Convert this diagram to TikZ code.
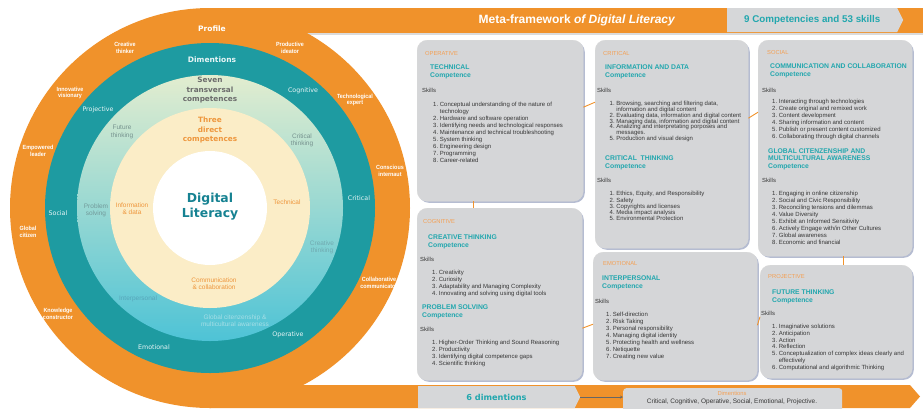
\documentclass[tikz,border=0pt]{standalone}
\usepackage{fontspec}
\setmainfont{Liberation Sans}
\newfontfamily\ringfont{DejaVu Sans}
\newfontfamily\narrowfont[FakeStretch=0.9]{Liberation Sans}
\usetikzlibrary{shapes.symbols, arrows, shadows, positioning}

\definecolor{dlorange}{RGB}{240,146,43}
\definecolor{dlteal}{RGB}{30,155,161}
\definecolor{dldeep}{RGB}{22,130,146}
\definecolor{dlcyan}{RGB}{34,167,174}
\definecolor{dlcream}{RGB}{251,237,199}
\definecolor{dlpale}{RGB}{226,237,207}
\definecolor{dlmint}{RGB}{140,210,204}
\definecolor{dlsky}{RGB}{78,195,214}
\definecolor{dlcard}{RGB}{213,214,216}
\definecolor{dlgray}{RGB}{214,215,217}
\definecolor{dlshade}{RGB}{150,160,190}
\definecolor{dltag}{RGB}{244,160,84}
\definecolor{dlink}{RGB}{55,55,55}
\definecolor{dlmuted}{RGB}{118,146,142}
\definecolor{dlfaint}{RGB}{100,185,200}
\definecolor{dlhaze}{RGB}{112,170,176}
\definecolor{dldusk}{RGB}{88,165,186}
\definecolor{dlmist}{RGB}{165,222,230}
\definecolor{dlsoft}{RGB}{238,150,60}

% indent for a wrapped skill line
\newcommand{\wrapon}{\phantom{1.}~}

\begin{document}
\begin{tikzpicture}[x=1pt, y=-1pt,
    % styles
    card/.style={rectangle, rounded corners=10pt, fill=dlcard, draw=black!15, line width=0.4pt, anchor=north west, inner sep=0pt,
      drop shadow={shadow xshift=1.6pt, shadow yshift=-1.6pt, fill=dlshade, opacity=0.7}},
    tag/.style={anchor=west, inner sep=0pt, text=dltag, font=\fontsize{5.8}{6.5}\selectfont},
    heading/.style={anchor=north west, inner sep=0pt, align=left, text=dlcyan, font=\bfseries\fontsize{6.8}{8}\selectfont},
    skillhead/.style={anchor=west, inner sep=0pt, text=dlink, font=\fontsize{5.9}{7}\selectfont},
    skills/.style={anchor=north west, inner sep=0pt, align=left, text=dlink, font=\fontsize{6}{7}\selectfont},
    link/.style={dlorange, line width=0.9pt},
    profile/.style={inner sep=0pt, align=center, text=white, font=\narrowfont\bfseries\fontsize{6}{6.6}\selectfont},
    dimension/.style={inner sep=0pt, align=center, text=white!90!dlteal, font=\ringfont\fontsize{6.3}{7}\selectfont},
    transversal/.style={inner sep=0pt, align=center, font=\fontsize{6.5}{7.2}\selectfont},
    direct/.style={inner sep=0pt, align=center, text=dlsoft, font=\fontsize{6.5}{7.2}\selectfont},
    chevron/.style={signal, signal to=east, signal pointer angle=127, fill=dlgray, inner sep=0pt, anchor=west}
  ]
  \useasboundingbox (0,0) rectangle (923,408);

  % rings: profile, dimensions, transversal, direct, core
  \fill[black!14] (300,33) rectangle (923,35);
  \fill[dlorange] (210,8) rectangle (923,33);
  \fill[dlorange] (210,385) -- (910,385) -- (920,396.5) -- (910,408) -- (210,408) -- cycle;
  \fill[dlorange] (210,208) circle (200);
  \fill[dlteal] (210,208) circle (165);
  \shade[top color=dlpale, middle color=dlmint, bottom color=dlsky] (210,208) circle (133);
  \fill[dlcream] (210,208) circle (100);
  \fill[white] (210,208) circle (57);

  \node[font=\ringfont\bfseries\fontsize{12.4}{15}\selectfont, text=dldeep, align=center] (core) at (210,206.5) {Digital\\Literacy};

  % profile band
  \node[profile, font=\ringfont\bfseries\fontsize{7.5}{9}\selectfont] (profile) at (212,29) {Profile};
  \node[profile] (creative) at (125,48) {Creative\\thinker};
  \node[profile] (ideator) at (290,48) {Productive\\ideator};
  \node[profile] (visionary) at (70,93) {Innovative\\visionary};
  \node[profile] (expert) at (355,100) {Technological\\expert};
  \node[profile] (leader) at (38,151) {Empowered\\leader};
  \node[profile] (internaut) at (390,171) {Conscious\\internaut};
  \node[profile] (citizen) at (28,232) {Global\\citizen};
  \node[profile] (communicator) at (379,283) {Collaborative\\communicator};
  \node[profile] (constructor) at (58,314) {Knowledge\\constructor};

  % dimensions band
  \node[dimension, font=\ringfont\bfseries\fontsize{7.5}{9}\selectfont] (dimtitle) at (212,60) {Dimentions};
  \node[dimension] (dcognitive) at (303,91) {Cognitive};
  \node[dimension] (dprojective) at (98,110) {Projective};
  \node[dimension] (dcritical) at (359,198) {Critical};
  \node[dimension] (dsocial) at (58,213) {Social};
  \node[dimension] (doperative) at (288,335) {Operative};
  \node[dimension] (demotional) at (154,347) {Emotional};

  % transversal band
  \node[transversal, text=black!58, font=\ringfont\bfseries\fontsize{7.3}{9.5}\selectfont] (seven) at (210,90.5) {Seven\\transversal\\competences};
  \node[transversal, text=dlmuted] (tfuture) at (122,132) {Future\\thinking};
  \node[transversal, text=dlmuted] (tcritical) at (302,140) {Critical\\thinking};
  \node[transversal, text=dlmuted!80!dlfaint] (tproblem) at (96,210) {Problem\\solving};
  \node[transversal, text=dlhaze] (tcreative) at (322,247) {Creative\\thinking};
  \node[transversal, text=dldusk] (tinter) at (138,299) {Interpersonal};
  \node[transversal, text=dlmist] (tglobal) at (235,321) {Global citenzenship \&\\multicultural awareness};

  % direct band
  \node[direct, font=\ringfont\bfseries\fontsize{7.3}{9.5}\selectfont] (three) at (210,130) {Three\\direct\\competences};
  \node[direct] (technical) at (287,202) {Technical};
  \node[direct] (infodata) at (132,209) {Information\\\& data};
  \node[direct] (commcollab) at (214,284) {Communication\\\& collaboration};

  % header strip
  \node[text=white, font=\bfseries\fontsize{12}{14}\selectfont] (banner) at (577,20.5) {Meta-framework \textit{of Digital Literacy}};
  \node[chevron, minimum width=176pt, minimum height=24pt, text=dlcyan, font=\bfseries\fontsize{9.8}{11}\selectfont] (tally) at (727,20) {9 Competencies and 53 skills};

  % cards
  \node[card, minimum width=166pt, minimum height=161pt] (operative) at (417,40) {};
  \node[card, minimum width=153pt, minimum height=208pt] (critical) at (595,40) {};
  \node[card, minimum width=154pt, minimum height=216pt] (social) at (758,40) {};
  \node[card, minimum width=165pt, minimum height=172pt] (cognitive) at (417,208) {};
  \node[card, minimum width=164pt, minimum height=128pt] (emotional) at (593,252) {};
  \node[card, minimum width=152pt, minimum height=113pt] (projective) at (760,265) {};

  % operative
  \node[tag] (optag) at (425,53) {OPERATIVE};
  \node[heading] (ophead) at (430,64.5) {TECHNICAL\\Competence};
  \node[skillhead] (opskills) at (422,90) {Skills};
  \node[skills] (oplist) at (433,102) {1.~Conceptual understanding of the nature of\\\wrapon technology\\2.~Hardware and software operation\\3.~Identifying needs and technological responses\\4.~Maintenance and technical troubleshooting\\5.~System thinking\\6.~Engineering design\\7.~Programming\\8.~Career-related};

  % critical
  \node[tag] (crtag) at (603,53) {CRITICAL};
  \node[heading] (crhead) at (605,64.5) {INFORMATION AND DATA\\Competence};
  \node[skillhead] (crskills) at (597,90) {Skills};
  \node[skills, font=\fontsize{6}{5.95}\selectfont] (crlist) at (609.5,100.6) {1.~Browsing, searching and filtering data,\\\wrapon information and digital content\\2.~Evaluating data, information and digital content\\3.~Managing data, information and digital content\\4.~Analizing and interpretating porposes and\\\wrapon messages.\\5.~Production and visual design};
  \node[heading] (crhead2) at (605,155.8) {CRITICAL\ \ THINKING\\Competence};
  \node[skillhead] (crskills2) at (597,180.5) {Skills};
  \node[skills, font=\fontsize{6}{6.2}\selectfont] (crlist2) at (609.5,191.3) {1.~Ethics, Equity, and Responsibility\\2.~Safety\\3.~Copyrights and licenses\\4.~Media impact analysis\\5.~Environmental Protection};

  % social
  \node[tag] (sotag) at (767,52) {SOCIAL};
  \node[heading] (sohead) at (770,63.5) {COMMUNICATION AND COLLABORATION\\Competence};
  \node[skillhead] (soskills) at (762,90) {Skills};
  \node[skills] (solist) at (772,98.6) {1.~Interacting through technologies\\2.~Create original and remixed work\\3.~Content development\\4.~Sharing information and content\\5.~Publish or present content customized\\6.~Collaborating through digital channels};
  \node[heading, font=\bfseries\fontsize{6.8}{7.5}\selectfont] (sohead2) at (768,148.2) {GLOBAL CITENZENSHIP AND\\MULTICULTURAL AWARENESS\\Competence};
  \node[skillhead] (soskills2) at (762,180.3) {Skills};
  \node[skills] (solist2) at (772,191) {1.~Engaging in online citizenship\\2.~Social and Civic Responsibility\\3.~Reconciling tensions and dilemmas\\4.~Value Diversity\\5.~Exhibit an Informed Sensitivity\\6.~Actively Engage with/in Other Cultures\\7.~Global awareness\\8.~Economic and financial};

  % cognitive
  \node[tag] (cotag) at (423,221.7) {COGNITIVE};
  \node[heading] (cohead) at (428,234.8) {CREATIVE THINKING\\Competence};
  \node[skillhead] (coskills) at (420,259) {Skills};
  \node[skills, font=\fontsize{6}{7.2}\selectfont] (colist) at (432,269.6) {1.~Creativity\\2.~Curiosity\\3.~Adaptability and Managing Complexity\\4.~Innovating and solving using digital tools};
  \node[heading] (cohead2) at (422,304.8) {PROBLEM SOLVING\\Competence};
  \node[skillhead] (coskills2) at (420,329) {Skills};
  \node[skills, font=\fontsize{6}{7.1}\selectfont] (colist2) at (432,339.6) {1.~Higher-Order Thinking and Sound Reasoning\\2.~Productivity\\3.~Identifying digital competence gaps\\4.~Scientific thinking};

  % emotional
  \node[tag] (emtag) at (603,263.3) {EMOTIONAL};
  \node[heading] (emhead) at (602,275.8) {INTERPERSONAL\\Competence};
  \node[skillhead] (emskills) at (595,301) {Skills};
  \node[skills] (emlist) at (606,312.3) {1.~Self-direction\\2.~Risk Taking\\3.~Personal responsibility\\4.~Managing digital identity\\5.~Protecting health and wellness\\6.~Netiquette\\7.~Creating new value};

  % projective
  \node[tag] (prtag) at (768,276) {PROJECTIVE};
  \node[heading] (prhead) at (772,289.2) {FUTURE THINKING\\Competence};
  \node[skillhead] (prskills) at (761,313.3) {Skills};
  \node[skills, font=\fontsize{6}{6.8}\selectfont] (prlist) at (772,324) {1.~Imaginative solutions\\2.~Anticipation\\3.~Action\\4.~Reflection\\5.~Conceptualization of complex ideas clearly and\\\wrapon effectively\\6.~Computational and algorithmic Thinking};

  % links between cards
  \draw[link] ([yshift=13.5pt]operative.east) -- ([yshift=42pt]critical.west);
  \draw[link] ([yshift=26pt]critical.east) -- ([yshift=36pt]social.west);
  \draw[link] ([xshift=-27pt]operative.south) -- ([xshift=-26.5pt]cognitive.north);
  \draw[link] ([yshift=-34pt]cognitive.east) -- ([yshift=-8pt]emotional.west);
  \draw[link] ([yshift=-9pt]emotional.east) -- ([yshift=5pt]projective.west);
  \draw[link] ([xshift=8pt]social.south) -- ([xshift=7pt]projective.north);

  % footer strip
  \node[chevron, minimum width=162pt, minimum height=22pt, text=dlcyan, font=\ringfont\bfseries\fontsize{8.2}{9}\selectfont] (dimcount) at (418,397) {6 dimentions};
  \node[rectangle, rounded corners=3pt, fill=dlgray, anchor=north west, minimum width=219pt, minimum height=26pt, inner sep=0pt] (dimlist) at (623,388) {};
  \node[inner sep=0pt, text=dltag, font=\fontsize{5.8}{6}\selectfont] (dimhead) at (732,393) {Dimentions};
  \node[inner sep=0pt, text=dlink, font=\fontsize{6.5}{7}\selectfont] (dimnames) at (732,402.3) {Critical, Cognitive, Operative, Social, Emotional, Projective.};
  \draw[->, >=stealth, black!60, line width=0.4pt] (dimcount.east) -- (dimcount.east -| dimlist.west);
\end{tikzpicture}
\end{document}
